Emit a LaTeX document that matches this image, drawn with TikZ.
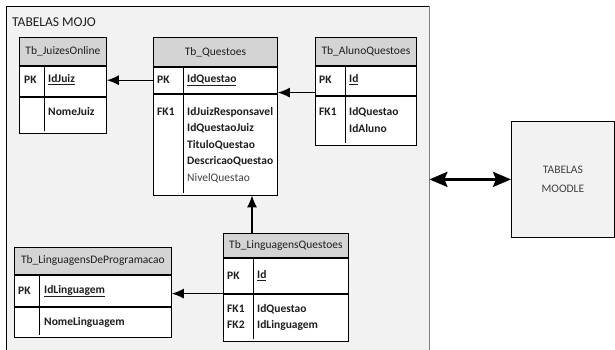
\documentclass[tikz,border=0pt]{standalone}
\usepackage{fontspec}
\setmainfont{Carlito}
\usetikzlibrary{arrows.meta,calc}
\definecolor{bggray}{HTML}{F2F2F2}
\definecolor{hdrgray}{HTML}{D4D4D4}
\definecolor{txt}{HTML}{1E1E1E}
\definecolor{edgegray}{HTML}{808080}
\newcommand\fsz{\fontsize{11.5}{13.8}\selectfont}
\tikzset{
  tbl/.style={draw=black, line width=0.8pt, fill=white, inner sep=0pt, anchor=north west},
  hdr/.style={tbl, fill=hdrgray, text=txt, font=\fsz},
  keylbl/.style={anchor=west, inner sep=0pt, text=txt, font=\fsz\bfseries},
  fldb/.style={anchor=west, inner sep=0pt, text=txt, font=\fsz\bfseries},
  fldn/.style={anchor=west, inner sep=0pt, text=txt!85, font=\fsz},
  divl/.style={draw=black, line width=0.8pt},
  fkarrow/.style={line width=1.3pt, -{Latex[length=12pt,width=10pt]}},
  dblarrow/.style={line width=3pt, {Stealth[length=18pt,width=15pt,inset=3pt]}-{Stealth[length=18pt,width=15pt,inset=3pt]}}
}
\begin{document}
\begin{tikzpicture}[x=1pt,y=-1pt]
\useasboundingbox (0,0) rectangle (615,350);
% outer MOJO area
\node[fill=bggray, inner sep=0pt, minimum width=423pt, minimum height=344pt, anchor=north west] (mojo) at (6,6) {};
\draw[black, line width=0.8pt] (mojo.south west) -- (mojo.north west) -- (mojo.north east);
\draw[edgegray, line width=1pt] (mojo.north east) -- (mojo.south east);
\node[anchor=west, inner sep=0pt, text=txt, font=\fontsize{13.5}{15}\selectfont] (mojotitle) at (12,22) {TABELAS MOJO};

% Tb_JuizesOnline
\node[hdr, minimum width=87pt, minimum height=28pt] (j) at (19,37) {Tb\_JuizesOnline};
\node[tbl, minimum width=87pt, minimum height=30pt] (jpk) at (j.south west) {};
\node[tbl, minimum width=87pt, minimum height=36pt] (jr) at (jpk.south west) {};
\draw[divl] (44,65) -- (44,131);
\node[keylbl] (jk1) at (24,80) {PK};
\node[fldb] (jf1) at (48,80) {\underline{IdJuiz}};
\node[fldb] (jf2) at (48,112) {NomeJuiz};

% Tb_Questoes
\node[hdr, minimum width=124pt, minimum height=29pt] (q) at (153,37) {Tb\_Questoes};
\node[tbl, minimum width=124pt, minimum height=26pt] (qpk) at (q.south west) {};
\node[tbl, minimum width=124pt, minimum height=101pt] (qfk) at (qpk.south west) {};
\draw[divl] (183,66) -- (183,193);
\node[keylbl] (qk1) at (157,80) {PK};
\node[fldb] (qf1) at (187,80) {\underline{IdQuestao}};
\node[keylbl] (qk2) at (157,112) {FK1};
\node[fldb] (qf2) at (187,112) {IdJuizResponsavel};
\node[fldb] (qf3) at (187,128.5) {IdQuestaoJuiz};
\node[fldb] (qf4) at (187,145) {TituloQuestao};
\node[fldb] (qf5) at (187,161.5) {DescricaoQuestao};
\node[fldn] (qf6) at (187,178) {NivelQuestao};

% Tb_AlunoQuestoes
\node[hdr, minimum width=101pt, minimum height=28pt] (a) at (315,37) {Tb\_AlunoQuestoes};
\node[tbl, minimum width=101pt, minimum height=29pt] (apk) at (a.south west) {};
\node[tbl, minimum width=101pt, minimum height=49pt] (afk) at (apk.south west) {};
\draw[divl] (345,65) -- (345,143);
\node[keylbl] (ak1) at (319,80) {PK};
\node[fldb] (af1) at (349,80) {\underline{Id}};
\node[keylbl] (ak2) at (319,112) {FK1};
\node[fldb] (af2) at (349,112) {IdQuestao};
\node[fldb] (af3) at (349,128.5) {IdAluno};

% Tb_LinguagensDeProgramacao
\node[hdr, minimum width=157pt, minimum height=27pt] (l) at (14,247) {Tb\_LinguagensDeProgramacao};
\node[tbl, minimum width=157pt, minimum height=31pt] (lpk) at (l.south west) {};
\node[tbl, minimum width=157pt, minimum height=30pt] (lr) at (lpk.south west) {};
\draw[divl] (39,274) -- (39,335);
\node[keylbl] (lk1) at (18,291) {PK};
\node[fldb] (lf1) at (44,291) {\underline{IdLinguagem}};
\node[fldb] (lf2) at (44,322) {NomeLinguagem};

% Tb_LinguagensQuestoes
\node[hdr, minimum width=125pt, minimum height=24pt] (lq) at (223,233) {Tb\_LinguagensQuestoes};
\node[tbl, minimum width=125pt, minimum height=35pt] (lqpk) at (lq.south west) {};
\node[tbl, minimum width=125pt, minimum height=47pt] (lqfk) at (lqpk.south west) {};
\draw[divl] (253,257) -- (253,339);
\coordinate (lqtop) at (252,233);
\node[keylbl] (lqk1) at (227,276) {PK};
\node[fldb] (lqf1) at (257,276) {\underline{Id}};
\node[keylbl] (lqk2) at (227,309) {FK1};
\node[fldb] (lqf2) at (257,309) {IdQuestao};
\node[keylbl] (lqk3) at (227,325) {FK2};
\node[fldb] (lqf3) at (257,325) {IdLinguagem};

% TABELAS MOODLE
\node[draw=black, line width=0.8pt, fill=bggray, minimum width=103pt, minimum height=116pt, anchor=north west, inner sep=0pt, text=txt!85, font=\fontsize{11.5}{19}\selectfont, align=center] (moodle) at (511,121) {TABELAS\\MOODLE};

% connectors
\draw[fkarrow] (qpk.west) -- (qpk.west -| jpk.east);
\draw[fkarrow] ($(apk.south west)+(0,-3)$) -- ($(apk.south west -| qpk.east)+(0,-3)$);
\draw[fkarrow] (lqpk.south west) -- (lqpk.south west -| lpk.east);
\draw[fkarrow] (lqtop) -- (lqtop |- qfk.south);
\draw[dblarrow] (moodle.west -| mojo.east) -- (moodle.west);
\end{tikzpicture}
\end{document}
